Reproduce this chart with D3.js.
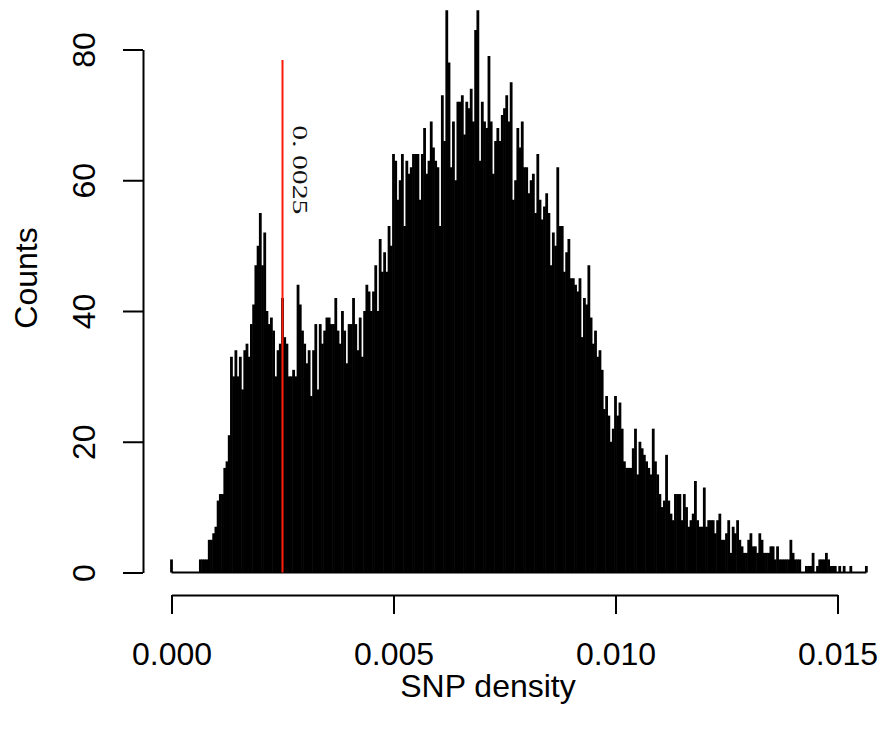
<!DOCTYPE html>
<html>
<head>
<meta charset="utf-8">
<script src="https://cdn.jsdelivr.net/npm/d3@7"></script>
<style>
body { margin: 0; background: #fff; }
</style>
</head>
<body>
<div id="vis"></div>
<script>
// counts per SNP-density bin, bin i starts at i * binWidth
let binWidth = 0.00005
let counts = [
    2, 0, 0, 0, 0, 0, 0, 0, 0, 0,
    0, 0, 0, 2, 2, 2, 2, 5, 5, 6,
    7, 11, 12, 12, 16, 17, 21, 33, 30, 34,
    30, 33, 28, 34, 35, 33, 38, 41, 47, 50,
    55, 47, 52, 40, 38, 39, 37, 30, 34, 35,
    42, 36, 35, 30, 30, 31, 30, 44, 41, 37,
    35, 32, 34, 27, 34, 38, 28, 38, 35, 37,
    39, 39, 38, 38, 42, 37, 35, 40, 37, 32,
    38, 38, 42, 38, 34, 39, 33, 40, 44, 43,
    40, 43, 47, 40, 51, 46, 49, 46, 53, 50,
    64, 63, 57, 60, 64, 53, 63, 61, 62, 64,
    64, 64, 57, 64, 68, 61, 63, 69, 65, 63,
    62, 53, 73, 66, 86, 78, 62, 69, 60, 72,
    72, 73, 67, 72, 71, 74, 69, 83, 86, 63,
    72, 69, 68, 79, 69, 61, 66, 68, 66, 70,
    71, 73, 69, 75, 57, 60, 68, 65, 69, 62,
    62, 58, 60, 61, 55, 64, 57, 54, 56, 58,
    55, 47, 52, 50, 62, 53, 53, 46, 49, 51,
    45, 45, 44, 43, 45, 36, 42, 41, 47, 39,
    35, 37, 33, 34, 31, 25, 27, 24, 20, 22,
    27, 24, 26, 22, 17, 16, 16, 16, 19, 22,
    15, 20, 19, 18, 17, 16, 15, 22, 17, 15,
    12, 10, 11, 18, 11, 9, 8, 12, 12, 12,
    8, 12, 10, 7, 8, 9, 14, 8, 7, 7,
    13, 7, 8, 8, 8, 6, 8, 9, 5, 5,
    6, 8, 3, 7, 6, 8, 5, 4, 3, 3,
    5, 6, 4, 4, 3, 6, 5, 3, 3, 3,
    4, 4, 2, 4, 2, 2, 2, 2, 2, 5,
    3, 2, 2, 2, 0, 0, 1, 1, 1, 3,
    0, 1, 2, 2, 2, 3, 2, 1, 1, 1,
    0, 1, 0, 1, 0, 0, 1, 0, 0, 0,
    0, 0, 0, 1
]
let xTicks = [0, 0.005, 0.010, 0.015]
let yTicks = [0, 20, 40, 60, 80]
let cutoff = 0.0025
let cutoffTop = 78.4
let cutoffLabel = "0. 0025"
let cutoffLabelAt = 61.6
let xLabel = "SNP density"
let yLabel = "Counts"

config = {}
config.width = 884
config.height = 733

let bins = counts.map((c, i) => ({x: i * binWidth, count: c}))

let x = d3.scaleLinear().domain([0, 0.015]).range([171.5, 837.5])
let y = d3.scaleLinear().domain([0, 80]).range([572.5, 49.5])

let svg = d3.select("#vis")
    .append("svg")
    .attr("width", config.width)
    .attr("height", config.height)
    .attr("font-family", "'Liberation Sans', Arial, Helvetica, sans-serif")

// zero line under the bars
svg.append("line")
    .attr("x1", x(0))
    .attr("x2", x(bins[bins.length - 1].x))
    .attr("y1", y(0))
    .attr("y2", y(0))
    .attr("stroke", "#000")
    .attr("stroke-width", 2)

// type "h" style bars
svg.append("g")
    .attr("stroke", "#000")
    .attr("stroke-width", 2.8)
    .selectAll("line")
    .data(bins.filter(d => d.count > 0))
    .join("line")
    .attr("x1", d => x(d.x))
    .attr("x2", d => x(d.x))
    .attr("y1", y(0))
    .attr("y2", d => y(d.count))

let xAxis = svg.append("g")
    .attr("transform", "translate(0,595)")
    .call(d3.axisBottom(x)
        .tickValues(xTicks)
        .tickFormat(d3.format(".3f"))
        .tickSize(19)
        .tickSizeOuter(0)
        .tickPadding(28))
    .attr("font-size", 32)
    .attr("font-family", null)
xAxis.select(".domain").attr("stroke-width", 2)
xAxis.selectAll(".tick line").attr("stroke-width", 2)
xAxis.selectAll(".tick text").attr("fill", "#000")

let yAxis = svg.append("g")
    .attr("transform", "translate(143,0)")
    .call(d3.axisLeft(y)
        .tickValues(yTicks)
        .tickSize(20)
        .tickSizeOuter(0))
    .attr("font-size", 32)
    .attr("font-family", null)
yAxis.select(".domain").attr("stroke-width", 2)
yAxis.selectAll(".tick line").attr("stroke-width", 2)
yAxis.selectAll(".tick text")
    .attr("x", null)
    .attr("dy", null)
    .attr("fill", "#000")
    .attr("text-anchor", "middle")
    .attr("transform", "translate(-48,0) rotate(-90)")

svg.append("text")
    .attr("x", 488)
    .attr("y", 697)
    .attr("text-anchor", "middle")
    .attr("font-size", 32)
    .text(xLabel)

svg.append("text")
    .attr("transform", "translate(37,278) rotate(-90)")
    .attr("text-anchor", "middle")
    .attr("font-size", 32)
    .text(yLabel)

// cutoff marker
svg.append("line")
    .attr("x1", x(cutoff))
    .attr("x2", x(cutoff))
    .attr("y1", y(0))
    .attr("y2", y(cutoffTop))
    .attr("stroke", "#ff1a0a")
    .attr("stroke-width", 2)

// label is wide serif text, stretched along its reading direction
svg.append("text")
    .attr("transform", `translate(${x(cutoff) + 10},${y(cutoffLabelAt)}) rotate(90) scale(1.35,1)`)
    .attr("text-anchor", "middle")
    .attr("font-family", "'Liberation Serif', 'Times New Roman', serif")
    .attr("font-size", 22)
    .attr("fill", "#111")
    .text(cutoffLabel)
</script>
</body>
</html>
